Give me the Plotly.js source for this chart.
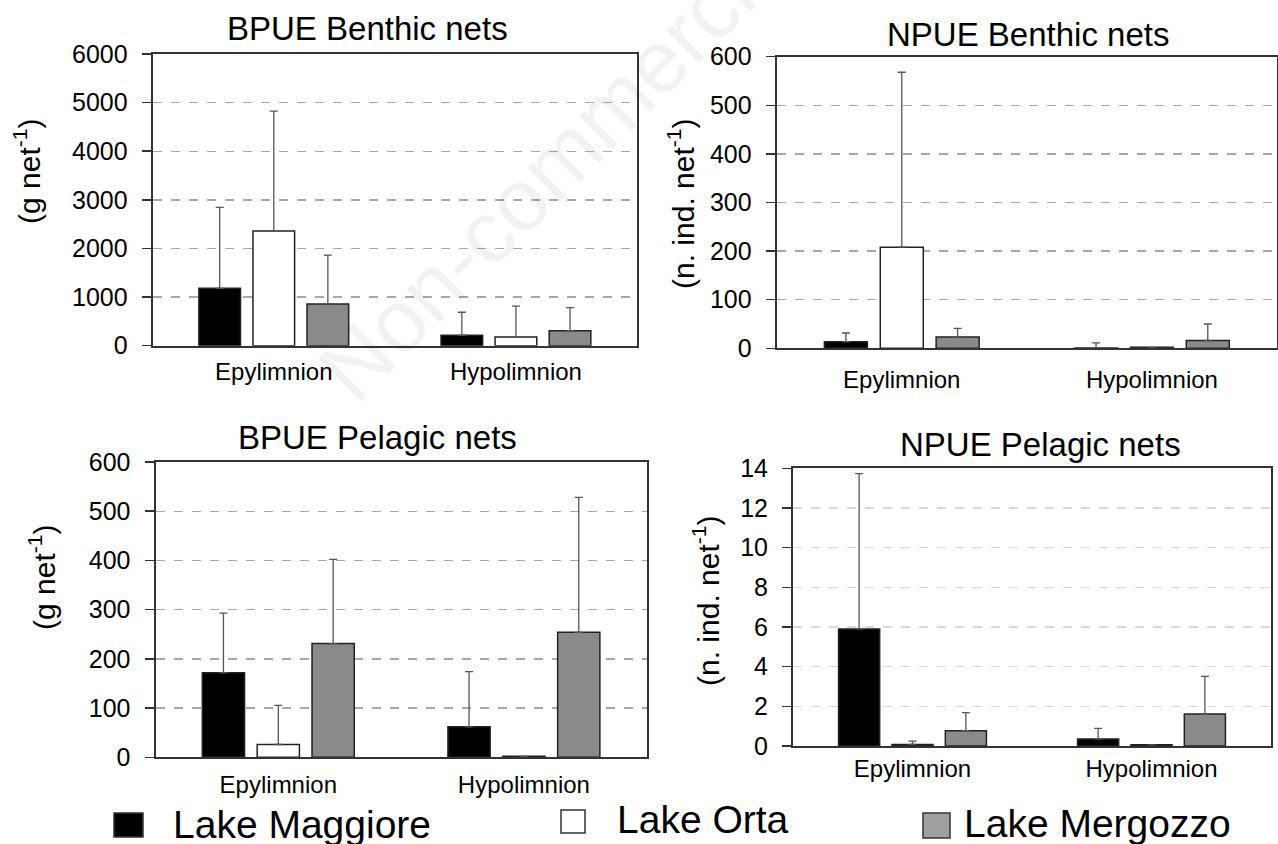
<!DOCTYPE html>
<html><head><meta charset="utf-8">
<script src="https://cdn.plot.ly/plotly-3.0.1.min.js"></script>
<style>html,body{margin:0;padding:0;background:#fff;} #chart{width:1278px;height:844px;}</style>
</head><body><div id="chart"></div><script>
// ---------- data ----------
const categories = ['Epylimnion', 'Hypolimnion'];
const lakes = ['Lake Maggiore', 'Lake Orta', 'Lake Mergozzo'];
const panelTitles = ['BPUE Benthic nets', 'NPUE Benthic nets', 'BPUE Pelagic nets', 'NPUE Pelagic nets'];
const yTitles = ['(g net<sup>-1</sup>)', '(n. ind. net<sup>-1</sup>)', '(g net<sup>-1</sup>)', '(n. ind. net<sup>-1</sup>)'];
const yMax = [6000, 600, 600, 14];
const yStep = [1000, 100, 100, 2];

// BPUE benthic (mean, SD)
const bpueBenthicMaggiore = [1180, 215];
const bpueBenthicOrta = [2360, 180];
const bpueBenthicMergozzo = [860, 310];
const bpueBenthicMaggioreSD = [1666, 473];
const bpueBenthicOrtaSD = [2463, 633];
const bpueBenthicMergozzoSD = [1001, 475];
// NPUE benthic
const npueBenthicMaggiore = [13.7, 0.5];
const npueBenthicOrta = [208, 2];
const npueBenthicMergozzo = [23, 16];
const npueBenthicMaggioreSD = [17.8, 10.5];
const npueBenthicOrtaSD = [360, null];
const npueBenthicMergozzoSD = [18, 34];
// BPUE pelagic
const bpuePelagicMaggiore = [172, 62];
const bpuePelagicOrta = [26, 2];
const bpuePelagicMergozzo = [231, 254];
const bpuePelagicMaggioreSD = [121, 112];
const bpuePelagicOrtaSD = [79.5, null];
const bpuePelagicMergozzoSD = [171, 274];
// NPUE pelagic
const npuePelagicMaggiore = [5.9, 0.35];
const npuePelagicOrta = [0.08, 0.06];
const npuePelagicMergozzo = [0.77, 1.61];
const npuePelagicMaggioreSD = [7.83, 0.54];
const npuePelagicOrtaSD = [0.17, null];
const npuePelagicMergozzoSD = [0.91, 1.9];

const panelValues = [
  [bpueBenthicMaggiore, bpueBenthicOrta, bpueBenthicMergozzo],
  [npueBenthicMaggiore, npueBenthicOrta, npueBenthicMergozzo],
  [bpuePelagicMaggiore, bpuePelagicOrta, bpuePelagicMergozzo],
  [npuePelagicMaggiore, npuePelagicOrta, npuePelagicMergozzo]
];
const panelSD = [
  [bpueBenthicMaggioreSD, bpueBenthicOrtaSD, bpueBenthicMergozzoSD],
  [npueBenthicMaggioreSD, npueBenthicOrtaSD, npueBenthicMergozzoSD],
  [bpuePelagicMaggioreSD, bpuePelagicOrtaSD, bpuePelagicMergozzoSD],
  [npuePelagicMaggioreSD, npuePelagicOrtaSD, npuePelagicMergozzoSD]
];

// ---------- style / layout ----------
const W = 1278, H = 844;
const FONT = 'Liberation Sans, Arial, Helvetica, sans-serif';
const fills = ['#000000', '#ffffff', '#8a8a8a'];
const legendFills = ['#000000', '#ffffff', '#a0a0a0'];
const px = x => x / W;
const py = y => 1 - y / H;

// plot boxes in pixels [left, right, top, bottom]
const boxes = [
  [152.7, 637, 54, 345.7],
  [776.7, 1277, 56.7, 348.3],
  [155.5, 646.7, 462, 757.3],
  [793, 1271, 468.3, 746]
];
const titlePos = [[367, 28], [1028, 34], [377, 437], [1040, 444]];
const yTitlePos = [[27, 172], [681, 204], [42, 578], [706, 601]];
const gridColors = ['#a8a8a8', '#a8a8a8', '#a8a8a8', '#d8d8d8'];
const xLabelStandoff = [3, 9, 5, 0];

const traces = [];
panelValues.forEach((vals, p) => {
  vals.forEach((v, k) => {
    traces.push({
      type: 'bar',
      name: lakes[k],
      x: categories,
      y: v,
      xaxis: 'x' + (p + 1),
      yaxis: 'y' + (p + 1),
      showlegend: false,
      marker: { color: fills[k], line: { color: '#222', width: 1.5 } },
      error_y: {
        type: 'data', symmetric: false,
        array: panelSD[p][k], arrayminus: v.map(() => 0),
        color: '#555', thickness: 1.3, width: 4
      },
      hoverinfo: 'x+y+name'
    });
  });
});

const layout = {
  width: W, height: H,
  margin: { l: 0, r: 0, t: 0, b: 0 },
  paper_bgcolor: '#fff', plot_bgcolor: '#fff',
  font: { family: FONT, color: '#000' },
  barmode: 'group', bargap: 0.33, bargroupgap: 0.23,
  showlegend: false,
  annotations: [], shapes: []
};

boxes.forEach((b, p) => {
  const n = p + 1;
  layout['xaxis' + n] = {
    domain: [px(b[0]), px(b[1])], anchor: 'y' + n,
    type: 'category', range: [-0.5, 1.5],
    showline: true, mirror: true, linecolor: '#333', linewidth: 2,
    ticks: '', showgrid: false, zeroline: false,
    tickfont: { size: 24, family: FONT, color: '#000' },
    ticklabelstandoff: xLabelStandoff[p], fixedrange: true
  };
  layout['yaxis' + n] = {
    domain: [py(b[3]), py(b[2])], anchor: 'x' + n,
    range: [0, yMax[p]], dtick: yStep[p], tick0: 0,
    showline: true, mirror: true, linecolor: '#333', linewidth: 2,
    ticks: 'outside', ticklen: 9, tickwidth: 1.5, tickcolor: '#333',
    showgrid: true, gridcolor: gridColors[p], griddash: 'dash', gridwidth: 1.3,
    zeroline: false,
    tickfont: { size: 25, family: FONT, color: '#000' },
    ticklabelstandoff: 9, fixedrange: true
  };
  layout.annotations.push({
    xref: 'paper', yref: 'paper', x: px(titlePos[p][0]), y: py(titlePos[p][1]),
    xanchor: 'center', yanchor: 'middle', showarrow: false,
    text: panelTitles[p], font: { size: 33, family: FONT, color: '#000' }
  });
  layout.annotations.push({
    xref: 'paper', yref: 'paper', x: px(yTitlePos[p][0]), y: py(yTitlePos[p][1]),
    xanchor: 'center', yanchor: 'middle', showarrow: false, textangle: -90,
    text: yTitles[p], font: { size: 30, family: FONT, color: '#000' }
  });
});

// legend (drawn manually to match large square keys)
const legendSquares = [[114, 143, 813, 837], [561, 585, 810, 833], [923, 950, 813, 838]];
const legendText = [[171, 824], [615, 819], [962, 823]];
lakes.forEach((name, k) => {
  const s = legendSquares[k];
  layout.shapes.push({
    type: 'rect', xref: 'paper', yref: 'paper',
    x0: px(s[0]), x1: px(s[1]), y0: py(s[3]), y1: py(s[2]),
    fillcolor: legendFills[k], line: { color: '#333', width: 1.5 }
  });
  layout.annotations.push({
    xref: 'paper', yref: 'paper', x: px(legendText[k][0]), y: py(legendText[k][1]),
    xanchor: 'left', yanchor: 'middle', showarrow: false,
    text: name, font: { size: 39, family: FONT, color: '#000' }
  });
});

// faint watermark
layout.annotations.push({
  xref: 'paper', yref: 'paper', x: px(560), y: py(158),
  xanchor: 'center', yanchor: 'middle', showarrow: false, textangle: -45,
  text: 'Non-commercial', font: { size: 88, family: FONT, color: 'rgba(0,0,0,0.05)' }
});

Plotly.newPlot('chart', traces, layout, { displayModeBar: false, staticPlot: true });
</script></body></html>
